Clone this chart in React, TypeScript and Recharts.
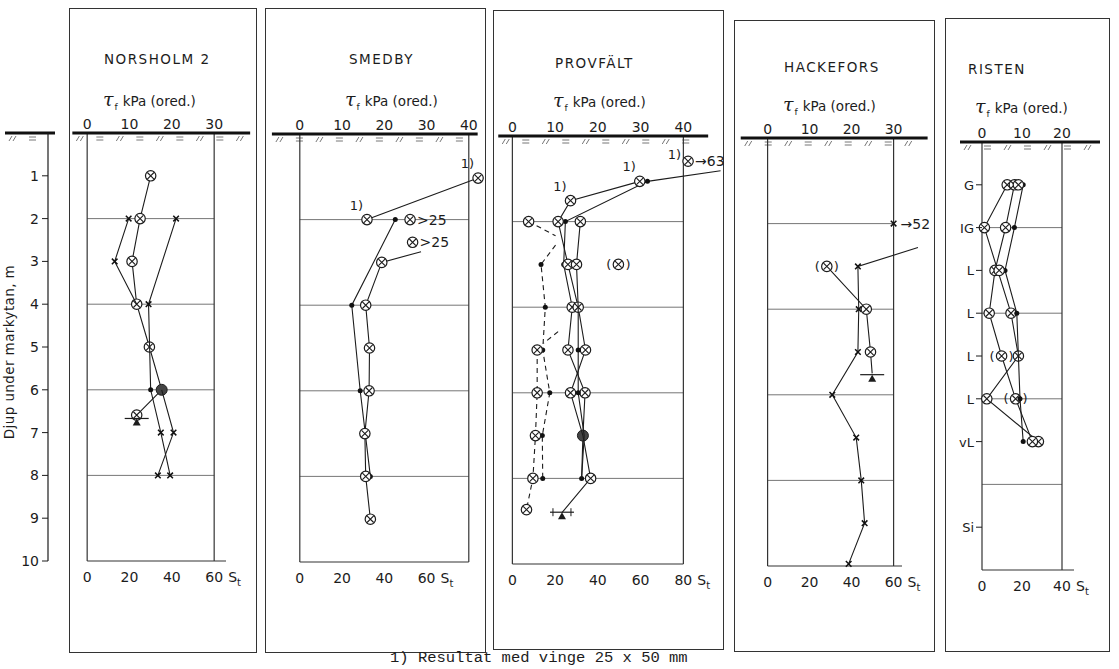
import React from 'react';
import { ScatterChart, Scatter, XAxis, YAxis, ReferenceLine, ReferenceArea } from 'recharts';

type Pt = { t: number; d: number; m?: string; lab?: string; lp?: string; rlab?: string };

// depth axis (m below ground)
const depthTicks = [1, 2, 3, 4, 5, 6, 7, 8, 9, 10];
const gridDepths = [2, 4, 6, 8];

// NORSHOLM 2 (values in kPa on the tau scale)
const norsholmVane: Pt[] = [
  { t: 15.0, d: 1, m: 'o' }, { t: 12.5, d: 2, m: 'o' }, { t: 10.6, d: 3, m: 'o' }, { t: 11.7, d: 4, m: 'o' },
  { t: 14.7, d: 5, m: 'o' }, { t: 17.6, d: 6, m: 'f' }, { t: 11.7, d: 6.59, m: 'o' },
];
const norsholmA: Pt[] = [{ t: 9.8, d: 2, m: 'x' }, { t: 6.5, d: 3, m: 'x' }, { t: 11.7, d: 4 }];
const norsholmB: Pt[] = [
  { t: 21.0, d: 2, m: 'x' }, { t: 14.5, d: 4, m: 'x' }, { t: 15.0, d: 6, m: 'dot' }, { t: 17.4, d: 7, m: 'x' }, { t: 19.6, d: 8, m: 'x' },
];
const norsholmC: Pt[] = [{ t: 17.6, d: 6 }, { t: 20.4, d: 7, m: 'x' }, { t: 16.7, d: 8, m: 'x' }];
const norsholmGw: Pt[] = [{ t: 11.7, d: 6.74, m: 'gw' }];

// SMEDBY
const smedbyWide: Pt[] = [{ t: 42.2, d: 1.03, m: 'o', lab: '1)', lp: 'al' }, { t: 15.9, d: 2, m: 'o', lab: '1)', lp: 'al' }];
const smedbyDots: Pt[] = [{ t: 22.6, d: 2, m: 'dot' }, { t: 12.3, d: 4, m: 'dot' }, { t: 14.3, d: 6, m: 'dot' }, { t: 16.7, d: 8, m: 'dot' }];
const smedbyVane: Pt[] = [
  { t: 28.7, d: 2.75 }, { t: 19.4, d: 3, m: 'o' }, { t: 15.6, d: 4, m: 'o' }, { t: 16.5, d: 5, m: 'o' },
  { t: 16.4, d: 6, m: 'o' }, { t: 15.4, d: 7, m: 'o' }, { t: 15.6, d: 8, m: 'o' }, { t: 16.7, d: 9, m: 'o' },
];
const smedbyHigh: Pt[] = [{ t: 26.1, d: 2, m: 'o', rlab: '>25' }, { t: 26.7, d: 2.53, m: 'o', rlab: '>25' }];

// PROVFÄLT
const provTop: Pt[] = [{ t: 41.1, d: 0.59, m: 'o', lab: '1)', lp: 'l', rlab: '→63' }];
const provArrow: Pt[] = [
  { t: 48.7, d: 0.81 }, { t: 31.6, d: 1.06, m: 'dot' }, { t: 12.4, d: 2, m: 'dot' }, { t: 12.0, d: 3, m: 'dot' },
  { t: 14.0, d: 4, m: 'o' }, { t: 13.0, d: 5, m: 'o' }, { t: 17.0, d: 6, m: 'o' }, { t: 16.5, d: 7, m: 'f' }, { t: 16.2, d: 8, m: 'dot' },
];
const provVinge: Pt[] = [
  { t: 29.8, d: 1.06, m: 'o', lab: '1)', lp: 'al' }, { t: 13.6, d: 1.51, m: 'o', lab: '1)', lp: 'al' }, { t: 10.7, d: 2, m: 'o' },
  { t: 13.0, d: 3, m: 'o' }, { t: 15.4, d: 4, m: 'o' }, { t: 17.1, d: 5, m: 'o' }, { t: 13.6, d: 6, m: 'o' },
  { t: 16.5, d: 7 }, { t: 18.3, d: 8, m: 'o' }, { t: 11.6, d: 8.8 },
];
const provRight: Pt[] = [
  { t: 15.9, d: 2, m: 'o' }, { t: 15.0, d: 3, m: 'o' }, { t: 15.4, d: 4 }, { t: 15.4, d: 5, m: 'dot' },
  { t: 15.4, d: 6, m: 'dot' }, { t: 16.8, d: 7 }, { t: 16.2, d: 8 },
];
const provDashDots: Pt[] = [
  { t: 10.1, d: 2.55 }, { t: 6.7, d: 3, m: 'dot' }, { t: 7.7, d: 4, m: 'dot' }, { t: 7.1, d: 5, m: 'dot' },
  { t: 8.75, d: 6, m: 'dot' }, { t: 7.0, d: 7, m: 'dot' }, { t: 7.1, d: 8, m: 'dot' },
];
const provDashTop: Pt[] = [{ t: 3.8, d: 2, m: 'o' }, { t: 10.1, d: 2.33 }];
const provDashMid: Pt[] = [{ t: 10.7, d: 4.57 }, { t: 7.3, d: 4.84 }];
const provDashCirc: Pt[] = [
  { t: 5.8, d: 5, m: 'o' }, { t: 5.8, d: 6, m: 'o' }, { t: 5.4, d: 7, m: 'o' }, { t: 4.8, d: 8, m: 'o' }, { t: 3.3, d: 8.73, m: 'o' },
];
const provSingle: Pt[] = [{ t: 24.8, d: 3, m: 'p' }];
const provGw: Pt[] = [{ t: 11.6, d: 8.86, m: 'gw2' }];

// HACKEFORS
const hackX: Pt[] = [
  { t: 35.8, d: 2.56 }, { t: 21.5, d: 3, m: 'x' }, { t: 21.7, d: 4, m: 'x' }, { t: 21.5, d: 5, m: 'x' }, { t: 15.4, d: 6, m: 'x' },
  { t: 21.1, d: 7, m: 'x' }, { t: 22.3, d: 8, m: 'x' }, { t: 23.1, d: 9, m: 'x' }, { t: 19.3, d: 9.95, m: 'x' },
];
const hackVane: Pt[] = [{ t: 14.1, d: 3, m: 'p' }, { t: 23.5, d: 4, m: 'o' }, { t: 24.5, d: 5, m: 'o' }, { t: 24.9, d: 5.5 }];
const hackHigh: Pt[] = [{ t: 30, d: 2, m: 'x', rlab: '→52' }];
const hackGw: Pt[] = [{ t: 24.9, d: 5.6, m: 'gw' }];

// RISTEN
const ristenA: Pt[] = [
  { t: 6.3, d: 1, m: 'o' }, { t: 0.6, d: 2, m: 'o' }, { t: 7.25, d: 4, m: 'o' }, { t: 9.1, d: 5, m: 'o' }, { t: 1.2, d: 6, m: 'o' }, { t: 14.1, d: 7, m: 'o' },
];
const ristenB: Pt[] = [
  { t: 8.1, d: 1, m: 'o' }, { t: 5.9, d: 2, m: 'o' }, { t: 3.25, d: 3, m: 'o' }, { t: 1.8, d: 4, m: 'o' },
  { t: 4.9, d: 5, m: 'p' }, { t: 8.4, d: 6, m: 'p' }, { t: 12.6, d: 7, m: 'o' },
];
const ristenC: Pt[] = [
  { t: 10.3, d: 1, m: 'dot' }, { t: 8.1, d: 2, m: 'dot' }, { t: 5.75, d: 3, m: 'dot' }, { t: 8.7, d: 4, m: 'dot' }, { t: 9.5, d: 6, m: 'dot' }, { t: 10.3, d: 7, m: 'dot' },
];
const ristenExtra: Pt[] = [{ t: 9.1, d: 1, m: 'o' }, { t: 4.3, d: 3, m: 'o' }];
const soilLayers = ['G', 'IG', 'L', 'L', 'L', 'L', 'vL', 'Si'];
const soilDepths = [1, 2, 3, 4, 5, 6, 7, 9];

const FONT = '"DejaVu Sans", "Liberation Sans", sans-serif';
const INK = '#1c1c1c';
const H = 669;
const TOP_H = 24;
const BOT_H = 30;
const PPM = 42.8;

type Series = { data: Pt[]; dash?: string; noLine?: boolean };
type PanelCfg = {
  title: string; zero: number; ppk: number; groundY: number; dom: [number, number];
  tauTicks: number[]; stTicks: number[]; tMax: number; ground: [number, number]; bottomEnd: number;
  box: number[]; titleAt: number[]; tauAt: number[]; series: Series[];
};

const panels: PanelCfg[] = [
  {
    title: 'NORSHOLM 2', zero: 87, ppk: 127 / 30, groundY: 133, dom: [-5, 40], tauTicks: [0, 10, 20, 30], stTicks: [0, 20, 40, 60],
    tMax: 30, ground: [-3.5, 38.5], bottomEnd: 32.8, box: [69, 8, 188, 645], titleAt: [104, 51], tauAt: [103, 88],
    series: [{ data: norsholmVane }, { data: norsholmA }, { data: norsholmB }, { data: norsholmC }, { data: norsholmGw, noLine: true }],
  },
  {
    title: 'SMEDBY', zero: 300, ppk: 169 / 40, groundY: 134, dom: [-8, 46], tauTicks: [0, 10, 20, 30, 40], stTicks: [0, 20, 40, 60],
    tMax: 40, ground: [-6.6, 42.1], bottomEnd: 40, box: [265, 8, 221, 645], titleAt: [349, 51], tauAt: [345, 88],
    series: [{ data: smedbyWide }, { data: smedbyDots }, { data: smedbyVane }, { data: smedbyHigh, noLine: true }],
  },
  {
    title: 'PROVFÄLT', zero: 512, ppk: 171 / 40, groundY: 136, dom: [-5, 52], tauTicks: [0, 10, 20, 30, 40], stTicks: [0, 20, 40, 60, 80],
    tMax: 40, ground: [-3.3, 45.8], bottomEnd: 40, box: [493, 10, 231, 640], titleAt: [555, 55], tauAt: [553, 89],
    series: [
      { data: provArrow }, { data: provVinge }, { data: provRight },
      { data: provDashDots, dash: '5 4' }, { data: provDashTop, dash: '5 4' }, { data: provDashMid, dash: '5 4' }, { data: provDashCirc, dash: '5 4' },
      { data: provTop, noLine: true }, { data: provSingle, noLine: true }, { data: provGw, noLine: true },
    ],
  },
  {
    title: 'HACKEFORS', zero: 768, ppk: 126 / 30, groundY: 138, dom: [-8, 41], tauTicks: [0, 10, 20, 30], stTicks: [0, 20, 40, 60],
    tMax: 30, ground: [-6.4, 38.1], bottomEnd: 32, box: [734, 20, 201, 632], titleAt: [784, 59], tauAt: [783, 93],
    series: [{ data: hackX }, { data: hackVane }, { data: hackHigh, noLine: true }, { data: hackGw, noLine: true }],
  },
  {
    title: 'RISTEN', zero: 982, ppk: 4.0, groundY: 142, dom: [-8, 30], tauTicks: [0, 10, 20], stTicks: [0, 20, 40],
    tMax: 20, ground: [-5.5, 29.5], bottomEnd: 23, box: [945, 18, 165, 634], titleAt: [968, 61], tauAt: [975, 95],
    series: [
      { data: ristenA }, { data: ristenB }, { data: ristenC }, { data: ristenExtra, noLine: true },
      { data: soilLayers.map((s, i) => ({ t: 0, d: soilDepths[i], m: 'soil', lab: s })), noLine: true },
    ],
  },
];

const Blank = () => <g />;

function Mark(props: any) {
  const { cx, cy, payload } = props;
  if (cx == null || cy == null || !payload) return <g />;
  const m = payload.m;
  const txt = { fontFamily: FONT, fill: INK } as const;
  const out: React.ReactNode[] = [];
  if (m === 'o' || m === 'p') {
    out.push(<circle key="c" cx={cx} cy={cy} r={5.2} fill="#fff" stroke={INK} strokeWidth={1.2} />);
    out.push(<path key="x" d={`M${cx - 3.3},${cy - 3.3}L${cx + 3.3},${cy + 3.3}M${cx - 3.3},${cy + 3.3}L${cx + 3.3},${cy - 3.3}`} stroke={INK} strokeWidth={1.1} />);
    if (m === 'p') {
      out.push(<text key="pl" x={cx - 7} y={cy + 4.5} textAnchor="end" fontSize={13} {...txt}>(</text>);
      out.push(<text key="pr" x={cx + 7} y={cy + 4.5} textAnchor="start" fontSize={13} {...txt}>)</text>);
    }
  } else if (m === 'f') {
    out.push(<circle key="f" cx={cx} cy={cy} r={5.5} fill="#444" stroke={INK} strokeWidth={1} />);
  } else if (m === 'dot') {
    out.push(<circle key="d" cx={cx} cy={cy} r={2.5} fill="#111" />);
  } else if (m === 'x') {
    out.push(<path key="x" d={`M${cx - 2.8},${cy - 2.8}L${cx + 2.8},${cy + 2.8}M${cx - 2.8},${cy + 2.8}L${cx + 2.8},${cy - 2.8}`} stroke="#111" strokeWidth={1.5} />);
  } else if (m === 'gw' || m === 'gw2') {
    out.push(<line key="b" x1={cx - 12} x2={cx + 12} y1={cy - 3} y2={cy - 3} stroke={INK} strokeWidth={1.2} />);
    out.push(<path key="t" d={`M${cx},${cy - 3}L${cx - 4},${cy + 4}L${cx + 4},${cy + 4}Z`} fill={INK} />);
    if (m === 'gw2') {
      out.push(<path key="k" d={`M${cx - 9},${cy - 7}L${cx - 9},${cy + 1}M${cx + 9},${cy - 7}L${cx + 9},${cy + 1}`} stroke={INK} strokeWidth={1} />);
    }
  } else if (m === 'soil') {
    out.push(<line key="s" x1={cx - 6} x2={cx} y1={cy} y2={cy} stroke={INK} strokeWidth={1} />);
    out.push(<text key="st" x={cx - 8} y={cy + 5} textAnchor="end" fontSize={13} {...txt}>{payload.lab}</text>);
    return <g>{out}</g>;
  }
  if (payload.lab) {
    const al = payload.lp === 'al';
    out.push(
      <text key="lab" x={al ? cx - 4 : cx - 7} y={al ? cy - 10 : cy - 2} textAnchor="end" fontSize={13} {...txt}>{payload.lab}</text>,
    );
  }
  if (payload.rlab) {
    out.push(<text key="rlab" x={cx + 7} y={cy + 5} textAnchor="start" fontSize={14} {...txt}>{payload.rlab}</text>);
  }
  return <g>{out}</g>;
}

function Hatch(props: any) {
  const { x, y, width } = props;
  const els: React.ReactNode[] = [];
  for (let i = 0; i * 20 + 14 < width; i++) {
    const x0 = x + 4 + i * 20;
    if (i % 2 === 0) {
      els.push(<path key={i} d={`M${x0},${y + 8}L${x0 + 3},${y + 3}M${x0 + 4},${y + 8}L${x0 + 7},${y + 3}`} />);
    } else {
      els.push(<path key={i} d={`M${x0},${y + 4}L${x0 + 7},${y + 4}M${x0},${y + 7}L${x0 + 7},${y + 7}`} />);
    }
  }
  return <g stroke="#666" strokeWidth={0.9} fill="none">{els}</g>;
}

function StTick(props: any) {
  const { x, y, payload, last } = props;
  return (
    <g>
      <text x={x} y={y} dy={21} textAnchor="middle" fontSize={14} fill={INK} fontFamily={FONT}>{payload.value}</text>
      {payload.value === last && (
        <text x={x + 14} y={y} dy={21} textAnchor="start" fontSize={14} fill={INK} fontFamily={FONT}>
          S<tspan dy={4} fontSize={10}>t</tspan>
        </text>
      )}
    </g>
  );
}

function Panel({ p }: { p: PanelCfg }) {
  const f = p.stTicks[1] / p.tauTicks[1];
  const left = p.zero + p.dom[0] * p.ppk;
  const width = (p.dom[1] - p.dom[0]) * p.ppk;
  const bottomY = p.groundY + 10 * PPM;
  const ax = { xAxisId: 't', yAxisId: 'd' };
  return (
    <>
      <div style={{ position: 'absolute', left: p.box[0], top: p.box[1], width: p.box[2], height: p.box[3], border: '1.5px solid #333', boxSizing: 'border-box' }} />
      <div style={{ position: 'absolute', left: p.titleAt[0], top: p.titleAt[1], fontFamily: FONT, fontSize: 13.5, letterSpacing: 1.5, color: INK, whiteSpace: 'nowrap' }}>
        {p.title}
      </div>
      <div style={{ position: 'absolute', left: p.tauAt[0], top: p.tauAt[1], fontFamily: FONT, fontSize: 13.5, color: INK, whiteSpace: 'nowrap' }}>
        <span style={{ fontFamily: '"DejaVu Serif", serif', fontStyle: 'italic', fontSize: 19 }}>τ</span>
        <span style={{ fontSize: 9, position: 'relative', top: 4, marginLeft: 1, marginRight: 5 }}>f</span>
        kPa (ored.)
      </div>
      <div style={{ position: 'absolute', left, top: 0 }}>
        <ScatterChart width={width} height={H} margin={{ top: p.groundY - TOP_H, right: 0, bottom: H - bottomY - BOT_H, left: 0 }}>
          <XAxis xAxisId="t" orientation="top" type="number" dataKey="t" domain={p.dom} ticks={p.tauTicks} interval={0}
            height={TOP_H} axisLine={false} tickLine={false} tickSize={0} tickMargin={4}
            tick={{ fontSize: 14, fill: INK, fontFamily: FONT }} />
          <XAxis xAxisId="s" orientation="bottom" type="number" dataKey="s" domain={[p.dom[0] * f, p.dom[1] * f]} allowDataOverflow
            ticks={p.stTicks} interval={0} height={BOT_H} axisLine={false} tickLine={false} tickSize={0} tickMargin={0}
            tick={<StTick last={p.stTicks[p.stTicks.length - 1]} />} />
          <YAxis yAxisId="d" type="number" dataKey="d" domain={[0, 10]} reversed hide />
          <ReferenceArea {...ax} x1={p.ground[0]} x2={p.ground[1]} y1={0} y2={0.2} ifOverflow="visible" shape={Hatch} />
          {gridDepths.map((g) => (
            <ReferenceLine key={g} {...ax} segment={[{ x: 0, y: g }, { x: p.tMax, y: g }]} stroke="#666" strokeWidth={0.9} ifOverflow="visible" />
          ))}
          <ReferenceLine {...ax} segment={[{ x: 0, y: 0 }, { x: 0, y: 10 }]} stroke="#333" strokeWidth={1.2} ifOverflow="visible" />
          <ReferenceLine {...ax} segment={[{ x: p.tMax, y: 0 }, { x: p.tMax, y: 10 }]} stroke="#333" strokeWidth={1.2} ifOverflow="visible" />
          <ReferenceLine {...ax} segment={[{ x: 0, y: 10 }, { x: p.bottomEnd, y: 10 }]} stroke="#333" strokeWidth={1.2} ifOverflow="visible" />
          <ReferenceLine {...ax} segment={[{ x: p.ground[0], y: 0 }, { x: p.ground[1], y: 0 }]} stroke="#111" strokeWidth={3} ifOverflow="visible" />
          <Scatter xAxisId="s" yAxisId="d" data={p.stTicks.map((v) => ({ s: v, d: 10 }))} shape={Blank} isAnimationActive={false} />
          {p.series.map((s, i) => (
            <Scatter key={i} {...ax} data={s.data} fill={INK} isAnimationActive={false} shape={Mark}
              line={s.noLine ? false : { stroke: INK, strokeWidth: 1.1, strokeDasharray: s.dash }} />
          ))}
        </ScatterChart>
      </div>
    </>
  );
}

export default function App() {
  return (
    <div style={{ position: 'absolute', left: 0, top: 0, width: 1119, height: H, background: '#fff', overflow: 'hidden' }}>
      <div style={{ position: 'absolute', left: 0, top: 0 }}>
        <ScatterChart width={62} height={H} margin={{ top: 133, right: 0, bottom: H - 561, left: 0 }}>
          <XAxis xAxisId="g" type="number" dataKey="x" domain={[0, 14]} allowDataOverflow hide />
          <YAxis yAxisId="d" type="number" dataKey="d" domain={[0, 10]} reversed ticks={depthTicks} interval={0} width={48}
            tickSize={6} tickMargin={3} axisLine={{ stroke: INK, strokeWidth: 1.2 }} tickLine={{ stroke: INK }}
            tick={{ fontSize: 14, fill: INK, fontFamily: FONT }} />
          <ReferenceArea xAxisId="g" yAxisId="d" x1={-43} x2={7} y1={0} y2={0.2} ifOverflow="visible" shape={Hatch} />
          <ReferenceLine xAxisId="g" yAxisId="d" segment={[{ x: -43, y: 0 }, { x: 7, y: 0 }]} stroke="#111" strokeWidth={3} ifOverflow="visible" />
          <Scatter xAxisId="g" yAxisId="d" data={depthTicks.map((d) => ({ x: 0, d }))} shape={Blank} isAnimationActive={false} />
        </ScatterChart>
      </div>
      <div style={{ position: 'absolute', left: 9, top: 352, transform: 'translate(-50%, -50%) rotate(-90deg)', fontFamily: FONT, fontSize: 13.5, letterSpacing: 0.4, color: INK, whiteSpace: 'nowrap' }}>
        Djup under markytan, m
      </div>
      {panels.map((p) => <Panel key={p.title} p={p} />)}
      <div style={{ position: 'absolute', left: 390, top: 649, fontFamily: '"Liberation Mono", "DejaVu Sans Mono", monospace', fontSize: 15.5, color: INK, whiteSpace: 'nowrap' }}>
        1) Resultat med vinge 25 x 50 mm
      </div>
    </div>
  );
}
